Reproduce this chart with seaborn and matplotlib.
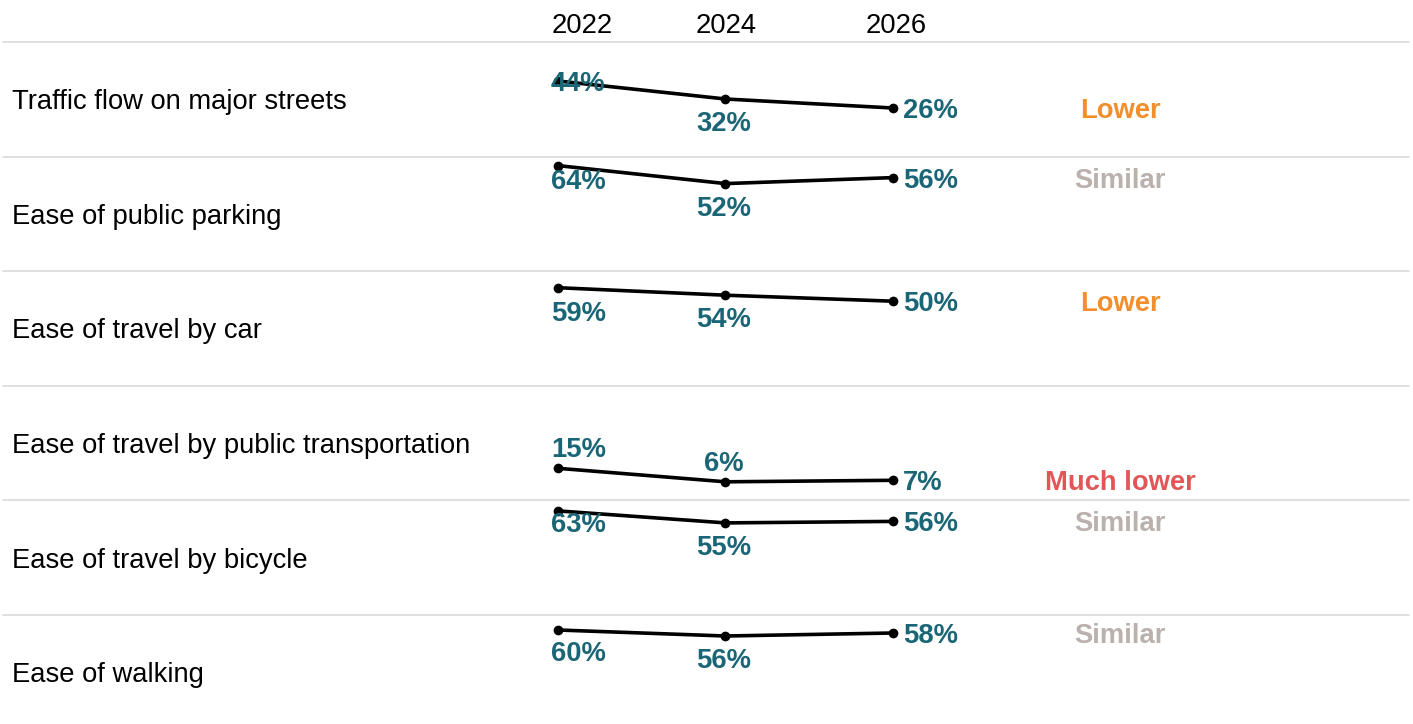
import pandas as pd
import seaborn as sns
import matplotlib.pyplot as plt

# chart values
categories = [
    "Traffic flow on major streets",
    "Ease of public parking",
    "Ease of travel by car",
    "Ease of travel by public transportation",
    "Ease of travel by bicycle",
    "Ease of walking",
]
years = [2022, 2024, 2026]
vals_2022 = [44, 64, 59, 15, 63, 60]
vals_2024 = [32, 52, 54, 6, 55, 56]
vals_2026 = [26, 56, 50, 7, 56, 58]
status = ["Lower", "Similar", "Lower", "Much lower", "Similar", "Similar"]

# long table for seaborn
rows = []
for i, cat in enumerate(categories):
    for yr, v in zip(years, [vals_2022[i], vals_2024[i], vals_2026[i]]):
        rows.append({"category": cat, "year": yr, "value": v})
df = pd.DataFrame(rows)

sns.set_style("white")
plt.rcParams["font.family"] = ["Liberation Sans", "DejaVu Sans"]

status_colors = {"Lower": "#F28E2B", "Similar": "#BAB0AC", "Much lower": "#E15759"}
label_color = "#1B6676"
fs = 19.7
va = "center_baseline"

# label offsets in pixels (positive = below the point)
first_dy = [0, 13, 23, -21, 11, 21]
mid_dy = [22, 22, 22, -21, 22, 22]
header_dx = [24, 1, 3]

W, H = 1413, 724
top0, row_h = 42, 114.6
fig = plt.figure(figsize=(W / 100, H / 100), dpi=100)

px_per_year = (893 - 558) / 4
xlim = (2022 - 558 / px_per_year, 2022 + (W - 558) / px_per_year)
ylim = (-6.4, 70)

for i, cat in enumerate(categories):
    top = top0 + i * row_h
    ax = fig.add_axes([0, 1 - (top + row_h) / H, 1, row_h / H])
    sub = df[df["category"] == cat]
    sns.lineplot(data=sub, x="year", y="value", color="black", linewidth=2.6,
                 marker="o", markersize=7, markeredgewidth=0, ax=ax)
    ax.set_xlim(*xlim)
    ax.set_ylim(*ylim)
    ax.axis("off")
    ax.axhline(ylim[1], xmin=0.002, xmax=0.997, color="#d6d6d6", linewidth=1.1,
               clip_on=False)

    v = sub["value"].tolist()
    ax.annotate(f"{v[0]}%", (years[0], v[0]), xytext=(-7, -first_dy[i]),
                textcoords="offset pixels", ha="left", va=va,
                fontsize=fs, fontweight="bold", color=label_color)
    ax.annotate(f"{v[1]}%", (years[1], v[1]), xytext=(-2, -mid_dy[i]),
                textcoords="offset pixels", ha="center", va=va,
                fontsize=fs, fontweight="bold", color=label_color)
    ax.annotate(f"{v[2]}%", (years[2], v[2]), xytext=(10, 0),
                textcoords="offset pixels", ha="left", va=va,
                fontsize=fs, fontweight="bold", color=label_color)

    ax.text(12 / W, 0.5, cat, transform=ax.transAxes, ha="left", va=va,
            fontsize=fs, color="black")
    ax.annotate(status[i], (1120 / W, v[2]), xycoords=("axes fraction", "data"),
                ha="center", va=va, fontsize=fs, fontweight="bold",
                color=status_colors[status[i]])

    if i == 0:
        for yr, dx in zip(years, header_dx):
            ax.annotate(str(yr), (yr, 1), xycoords=("data", "axes fraction"),
                        xytext=(dx, 19), textcoords="offset pixels",
                        ha="center", va=va, fontsize=fs, color="black")

fig.savefig("out.png", dpi=100)
